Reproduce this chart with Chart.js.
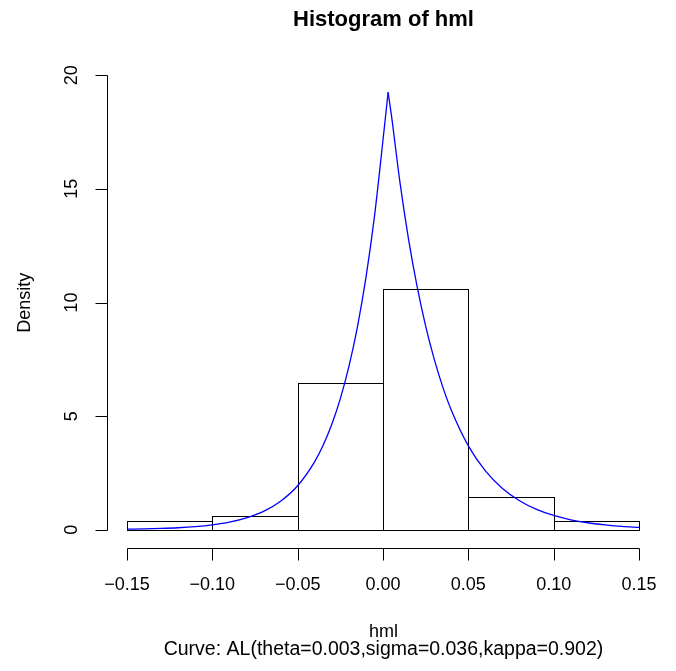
<!DOCTYPE html>
<html>
<head>
<meta charset="utf-8">
<script src="https://cdn.jsdelivr.net/npm/chart.js@4.4.1/dist/chart.umd.min.js"></script>
<style>
  html, body { margin: 0; padding: 0; background: #fff; }
  canvas { display: block; }
</style>
</head>
<body>
<canvas id="histChart" width="676" height="671"></canvas>
<script>
// histogram of hml with fitted AL density curve

const breaks = [-0.15, -0.10, -0.05, 0.00, 0.05, 0.10, 0.15];
const densities = [0.38, 0.62, 6.44, 10.60, 1.44, 0.38];

const curveX = [-0.15, -0.14, -0.13, -0.12, -0.11, -0.10, -0.09, -0.08, -0.07, -0.06,
    -0.05, -0.04, -0.035, -0.03, -0.025, -0.02, -0.015, -0.01, -0.005, 0.0,
    0.003, 0.005, 0.01, 0.015, 0.02, 0.025, 0.03, 0.035, 0.04, 0.05,
    0.06, 0.07, 0.08, 0.09, 0.10, 0.11, 0.12, 0.13, 0.14, 0.15];
const curveY = [0.03, 0.04, 0.06, 0.09, 0.14, 0.22, 0.34, 0.53, 0.81, 1.26,
    1.94, 3.00, 3.73, 4.64, 5.77, 7.18, 8.92, 11.09, 13.79, 17.15,
    19.25, 18.20, 15.25, 12.77, 10.70, 8.96, 7.51, 6.29, 5.27, 3.69,
    2.59, 1.82, 1.28, 0.90, 0.63, 0.44, 0.31, 0.22, 0.15, 0.11];

const xTicks = [-0.15, -0.10, -0.05, 0.00, 0.05, 0.10, 0.15];
const xTickLabels = ['\u22120.15', '\u22120.10', '\u22120.05', '0.00', '0.05', '0.10', '0.15'];
const yTicks = [0, 5, 10, 15, 20];
const yTickLabels = ['0', '5', '10', '15', '20'];

const titleText = 'Histogram of hml';
const xTitle = 'hml';
const yTitle = 'Density';
const subTitle = 'Curve: AL(theta=0.003,sigma=0.036,kappa=0.902)';

const FONT = '"Liberation Sans", Arial, Helvetica, sans-serif';

// split curve at the cusp so each side can be smoothed on its own
const peakIdx = curveY.indexOf(Math.max(...curveY));
const curvePts = curveX.map((x, i) => ({ x: x, y: curveY[i] }));
const leftPts = curvePts.slice(0, peakIdx + 1);
const rightPts = curvePts.slice(peakIdx);

const crisp = v => Math.round(v) + 0.5;

// outline each histogram cell like rect() in R
const histOutline = {
    id: 'histOutline',
    afterDatasetDraw(chart, args) {
        if (args.meta.type !== 'bar') return;
        const ctx = chart.ctx;
        ctx.save();
        ctx.strokeStyle = '#000';
        ctx.lineWidth = 1;
        args.meta.data.forEach(bar => {
            const p = bar.getProps(['x', 'y', 'base', 'width'], true);
            const l = crisp(p.x - p.width / 2);
            const r = crisp(p.x + p.width / 2);
            const t = crisp(p.y);
            const b = crisp(p.base);
            ctx.strokeRect(l, t, r - l, b - t);
        });
        ctx.restore();
    }
};

// R style axes, drawn off the plot region
const rAxes = {
    id: 'rAxes',
    afterDraw(chart) {
        const ctx = chart.ctx;
        const xs = chart.scales.x;
        const ys = chart.scales.y;
        const area = chart.chartArea;
        const axisX = crisp(xs.getPixelForValue(-0.162));
        const axisY = crisp(ys.getPixelForValue(-0.8));
        const tick = 12;

        ctx.save();
        ctx.strokeStyle = '#000';
        ctx.fillStyle = '#000';
        ctx.lineWidth = 1;

        // x axis
        ctx.beginPath();
        ctx.moveTo(crisp(xs.getPixelForValue(xTicks[0])), axisY);
        ctx.lineTo(crisp(xs.getPixelForValue(xTicks[xTicks.length - 1])), axisY);
        xTicks.forEach(v => {
            const px = crisp(xs.getPixelForValue(v));
            ctx.moveTo(px, axisY);
            ctx.lineTo(px, axisY + tick);
        });
        ctx.stroke();
        ctx.font = '18px ' + FONT;
        ctx.textAlign = 'center';
        ctx.textBaseline = 'middle';
        xTicks.forEach((v, i) => {
            ctx.fillText(xTickLabels[i], xs.getPixelForValue(v), axisY + 37);
        });

        // y axis
        ctx.beginPath();
        ctx.moveTo(axisX, crisp(ys.getPixelForValue(yTicks[0])));
        ctx.lineTo(axisX, crisp(ys.getPixelForValue(yTicks[yTicks.length - 1])));
        yTicks.forEach(v => {
            const py = crisp(ys.getPixelForValue(v));
            ctx.moveTo(axisX, py);
            ctx.lineTo(axisX - tick, py);
        });
        ctx.stroke();
        yTicks.forEach((v, i) => {
            ctx.save();
            ctx.translate(axisX - 35, ys.getPixelForValue(v));
            ctx.rotate(-Math.PI / 2);
            ctx.fillText(yTickLabels[i], 0, 0);
            ctx.restore();
        });

        // titles
        const cx = (axisX + xs.getPixelForValue(0.162)) / 2;
        ctx.font = 'bold 22px ' + FONT;
        ctx.fillText(titleText, cx, 20);
        ctx.font = '18px ' + FONT;
        ctx.fillText(xTitle, cx, 632);
        ctx.font = '19.5px ' + FONT;
        ctx.fillText(subTitle, cx, 650);
        ctx.font = '18px ' + FONT;
        ctx.save();
        ctx.translate(25, (area.top + axisY) / 2);
        ctx.rotate(-Math.PI / 2);
        ctx.fillText(yTitle, 0, 0);
        ctx.restore();
        ctx.restore();
    }
};

const curveStyle = {
    type: 'line',
    borderColor: '#0000ff',
    borderWidth: 1.3,
    pointRadius: 0,
    cubicInterpolationMode: 'monotone',
    fill: false,
    order: 0
};

new Chart(document.getElementById('histChart'), {
    type: 'bar',
    data: {
        datasets: [
            Object.assign({ data: leftPts }, curveStyle),
            Object.assign({ data: rightPts }, curveStyle),
            {
                type: 'bar',
                data: densities.map((d, i) => ({ x: (breaks[i] + breaks[i + 1]) / 2, y: d })),
                backgroundColor: 'rgba(255,255,255,0)',
                borderWidth: 0,
                barPercentage: 1,
                categoryPercentage: 1,
                order: 1
            }
        ]
    },
    options: {
        responsive: false,
        animation: false,
        devicePixelRatio: 1,
        layout: { padding: { left: 127, right: 37, top: 57, bottom: 123 } },
        plugins: { legend: { display: false }, tooltip: { enabled: false } },
        scales: {
            x: {
                type: 'linear',
                min: -0.15,
                max: 0.15,
                offset: false,
                display: false,
                ticks: { stepSize: 0.05 }
            },
            y: {
                min: -0.8,
                max: 20.8,
                display: false
            }
        }
    },
    plugins: [histOutline, rAxes]
});
</script>
</body>
</html>
